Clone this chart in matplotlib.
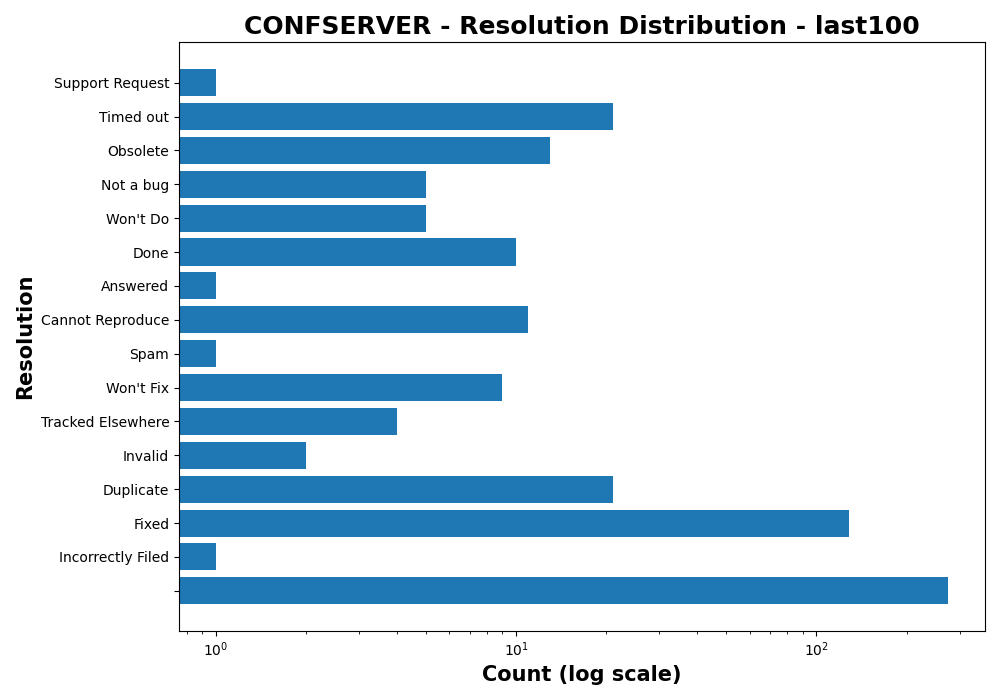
import matplotlib
matplotlib.use("Agg")
import matplotlib.pyplot as plt

categories = ["", "Incorrectly Filed", "Fixed", "Duplicate", "Invalid", "Tracked Elsewhere",
              "Won't Fix", "Spam", "Cannot Reproduce", "Answered", "Done", "Won't Do",
              "Not a bug", "Obsolete", "Timed out", "Support Request"]
counts = [275, 1, 128, 21, 2, 4, 9, 1, 11, 1, 10, 5, 5, 13, 21, 1]

fig, ax = plt.subplots(figsize=(10, 7), dpi=100)
ax.barh(categories, counts, color="#1f77b4")
ax.set_xscale("log")
ax.set_title("CONFSERVER - Resolution Distribution - last100", fontsize=18, fontweight="bold")
ax.set_xlabel("Count (log scale)", fontsize=15, fontweight="bold")
ax.set_ylabel("Resolution", fontsize=15, fontweight="bold")
fig.tight_layout()
fig.savefig("out.png")
